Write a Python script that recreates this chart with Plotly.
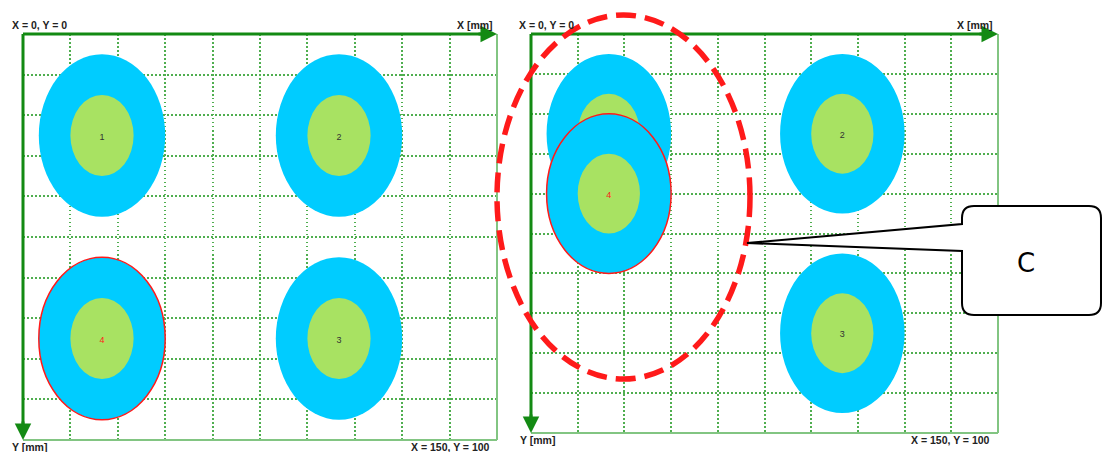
import plotly.graph_objects as go

W, H = 1102, 452

# ---- data ----
circle_ids = ["1", "2", "3", "4"]
left_cx = [25, 100, 100, 25]
left_cy = [25, 25, 75, 75]
right_cx = [25, 100, 100, 25]
right_cy = [25, 25, 75, 40]
outer_r = 20
inner_r = 10
highlight_id = "4"
x_range = [0, 150]
y_range = [0, 100]
x_step = 15
y_step = 10
corner_labels = ["X = 0, Y = 0", "X [mm]", "Y [mm]", "X = 150, Y = 100"]
callout_text = "C"

# ---- styles ----
CYAN = "#00CCFF"
LGREEN = "#A8E262"
DKGREEN = "#138a13"
LTGREEN = "#82c582"
GRID = "#4fae4f"
RED = "#ff1a1a"


def pxx(x):
    return x / W


def pyy(y):
    return 1 - y / H


fig = go.Figure()
shapes = []
annotations = []

panels = [
    dict(xa="x", ya="y", cx=left_cx, cy=left_cy,
         lab=[(10, 25, "left"), (495, 25, "right"), (10, 447, "left"), (492, 447, "right")]),
    dict(xa="x2", ya="y2", cx=right_cx, cy=right_cy,
         lab=[(517, 25, "left"), (995, 25, "right"), (518, 440, "left"), (992, 440, "right")]),
]

for p in panels:
    xa, ya = p["xa"], p["ya"]
    fig.add_trace(go.Scatter(x=p["cx"], y=p["cy"], mode="markers",
                             marker=dict(size=1, opacity=0), xaxis=xa, yaxis=ya,
                             showlegend=False, hoverinfo="skip"))
    # circles (shape labels keep number text in the shapes' z-order)
    for cid, cx, cy in zip(circle_ids, p["cx"], p["cy"]):
        hl = cid == highlight_id
        shapes.append(dict(type="circle", xref=xa, yref=ya,
                           x0=cx - outer_r, x1=cx + outer_r, y0=cy - outer_r, y1=cy + outer_r,
                           fillcolor=CYAN,
                           line=dict(color=RED if hl else CYAN, width=1.5 if hl else 0),
                           layer="above"))
        shapes.append(dict(type="circle", xref=xa, yref=ya,
                           x0=cx - inner_r, x1=cx + inner_r, y0=cy - inner_r, y1=cy + inner_r,
                           fillcolor=LGREEN, line=dict(width=0), layer="above",
                           label=dict(text=cid, textposition="middle center",
                                      font=dict(size=9, color=RED if hl else "#333333",
                                                family="Liberation Sans"))))
    # frame
    xd, yd = xa + " domain", ya + " domain"
    shapes.append(dict(type="line", xref=xd, yref=yd, x0=1, x1=1, y0=0, y1=1,
                       line=dict(color=LTGREEN, width=2), layer="above"))
    shapes.append(dict(type="line", xref=xd, yref=yd, x0=0, x1=1, y0=0, y1=0,
                       line=dict(color=LTGREEN, width=2), layer="above"))
    shapes.append(dict(type="line", xref=xd, yref=yd, x0=0, x1=0.985, y0=1, y1=1,
                       line=dict(color=DKGREEN, width=3), layer="above"))
    shapes.append(dict(type="line", xref=xd, yref=yd, x0=0, x1=0, y0=0.015, y1=1,
                       line=dict(color=DKGREEN, width=3), layer="above"))
    annotations.append(dict(xref=xd, yref=yd, x=1, y=1, ax=-20, ay=0, text="",
                            showarrow=True, arrowhead=2, arrowsize=1.1, arrowwidth=3,
                            arrowcolor=DKGREEN, standoff=0))
    annotations.append(dict(xref=xd, yref=yd, x=0, y=0, ax=0, ay=-20, text="",
                            showarrow=True, arrowhead=2, arrowsize=1.1, arrowwidth=3,
                            arrowcolor=DKGREEN, standoff=0))
    # corner labels
    for (lx, ly, anc), txt in zip(p["lab"], corner_labels):
        annotations.append(dict(xref="paper", yref="paper", x=pxx(lx), y=pyy(ly),
                                xanchor=anc, yanchor="middle", text="<b>%s</b>" % txt,
                                showarrow=False,
                                font=dict(size=10.5, color="#222222", family="Liberation Sans")))

# red dashed ellipse
shapes.append(dict(type="circle", xref="paper", yref="paper",
                   x0=pxx(497), x1=pxx(750), y0=pyy(379), y1=pyy(15),
                   line=dict(color=RED, width=5.5, dash="20px,9px"),
                   fillcolor="rgba(0,0,0,0)", layer="above"))

# callout
r = 12
L, T, R, B = 962, 206, 1101, 315
pts = [
    ("M", (L, 224)), ("L", (L, T + r)), ("Q", (L, T), (L + r, T)), ("L", (R - r, T)),
    ("Q", (R, T), (R, T + r)), ("L", (R, B - r)), ("Q", (R, B), (R - r, B)),
    ("L", (L + r, B)), ("Q", (L, B), (L, B - r)), ("L", (L, 251)), ("L", (747, 243)),
]
path = ""
for item in pts:
    cmd = item[0]
    coords = " ".join("%.5f,%.5f" % (pxx(a), pyy(b)) for a, b in item[1:])
    path += "%s %s " % (cmd, coords)
path += "Z"
shapes.append(dict(type="path", xref="paper", yref="paper", path=path,
                   fillcolor="white", line=dict(color="black", width=2), layer="above"))
annotations.append(dict(xref="paper", yref="paper", x=pxx(1037), y=pyy(263),
                        text=callout_text, showarrow=False,
                        font=dict(size=26, color="black", family="DejaVu Sans")))

axis_common = dict(showgrid=True, gridcolor=GRID, gridwidth=1.5, griddash="1.5px,2.5px",
                   zeroline=False, showticklabels=False, ticks="", showline=False)

fig.update_layout(
    width=W, height=H, margin=dict(l=0, r=0, t=0, b=0),
    paper_bgcolor="white", plot_bgcolor="white",
    showlegend=False,
    xaxis=dict(domain=[pxx(23), pxx(497)], range=x_range, dtick=x_step, tick0=0,
               anchor="y", **axis_common),
    yaxis=dict(domain=[pyy(440), pyy(34)], range=[y_range[1], y_range[0]], dtick=y_step,
               tick0=0, anchor="x", **axis_common),
    xaxis2=dict(domain=[pxx(531), pxx(998)], range=x_range, dtick=x_step, tick0=0,
                anchor="y2", **axis_common),
    yaxis2=dict(domain=[pyy(433), pyy(34)], range=[y_range[1], y_range[0]], dtick=y_step,
                tick0=0, anchor="x2", **axis_common),
    shapes=shapes,
    annotations=annotations,
)

fig.write_html("out.html", config={"displayModeBar": False},
               post_script="document.body.style.margin='0px';")
